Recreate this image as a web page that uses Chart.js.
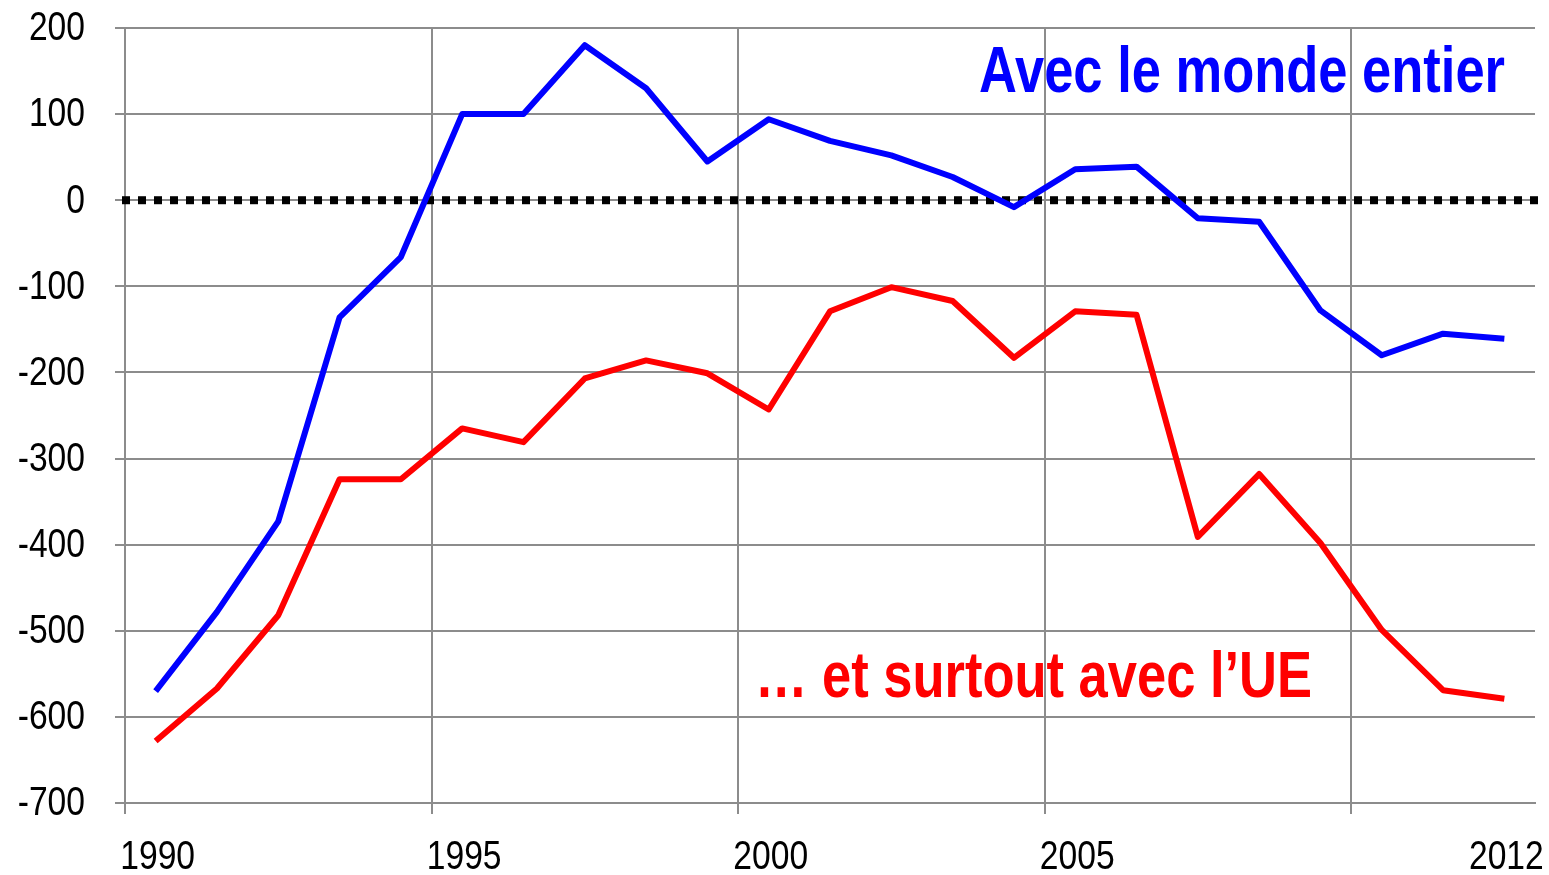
<!DOCTYPE html>
<html>
<head>
<meta charset="utf-8">
<script src="https://cdn.jsdelivr.net/npm/chart.js@4"></script>
<style>
  html, body { margin: 0; padding: 0; background: #fff; }
  #wrap { width: 1549px; height: 875px; }
</style>
</head>
<body>
<div id="wrap"><canvas id="graphique"></canvas></div>
<script>
const annees = ["1990","1991","1992","1993","1994","1995","1996","1997","1998","1999","2000",
  "2001","2002","2003","2004","2005","2006","2007","2008","2009","2010","2011","2012"];

const mondeEntier = [-570, -478, -373, -136, -66, 100, 100, 180, 130, 45, 94,
  69, 52, 27, -8, 36, 39, -21, -25, -128, -180, -155, -161];

const avecUE = [-628, -567, -482, -324, -324, -265, -281, -207, -186, -201, -243,
  -129, -101, -117, -183, -129, -133, -391, -318, -398, -499, -569, -579];

const anneesAffichees = ["1990", "1995", "2000", "2005", "2012"];
const yMin = -700, yMax = 200, yPas = 100;

const police = "'Liberation Sans', Arial, sans-serif";
const etroit = 0.82; // pas de police "narrow" installée : on compresse à la main
const gris = "#8c8c8c";

function texteEtroit(ctx, txt, x, y, align) {
  ctx.save();
  ctx.translate(x, y);
  ctx.scale(etroit, 1);
  ctx.textAlign = align;
  ctx.fillText(txt, 0, 0);
  ctx.restore();
}

// ligne pointillée du zéro, étiquettes des axes et textes
const decor = {
  id: "decor",
  beforeDatasetsDraw(chart) {
    const { ctx, chartArea, scales } = chart;
    const y0 = scales.y.getPixelForValue(0);
    ctx.save();
    ctx.strokeStyle = "#000";
    ctx.lineWidth = 8;
    ctx.setLineDash([8, 8]);
    ctx.beginPath();
    ctx.moveTo(chartArea.left - 3, y0);
    ctx.lineTo(chartArea.right + 3, y0);
    ctx.stroke();
    ctx.restore();
  },
  afterDraw(chart) {
    const { ctx, chartArea, scales } = chart;
    ctx.save();
    ctx.fillStyle = "#000";
    ctx.font = "41px " + police;
    ctx.textBaseline = "middle";
    scales.y.ticks.forEach(t => {
      texteEtroit(ctx, String(t.value), chartArea.left - 40, scales.y.getPixelForValue(t.value) + 1, "right");
    });
    ctx.textBaseline = "top";
    annees.forEach((a, i) => {
      if (anneesAffichees.includes(a)) {
        texteEtroit(ctx, a, scales.x.getPixelForValue(i) + 2, chartArea.bottom + 34, "center");
      }
    });

    ctx.font = "bold 64px " + police;
    ctx.textBaseline = "alphabetic";
    ctx.fillStyle = "#0000ff";
    texteEtroit(ctx, "Avec le monde entier", chartArea.right - 30, 92, "right");
    ctx.fillStyle = "#ff0000";
    texteEtroit(ctx, "\u2026 et surtout avec l\u2019UE", chartArea.right - 223, 697, "right");
    ctx.restore();
  }
};

new Chart(document.getElementById("graphique"), {
  type: "line",
  data: {
    labels: annees,
    datasets: [{
      label: "Avec le monde entier",
      data: mondeEntier,
      borderColor: "#0000ff",
      borderWidth: 6,
      borderJoinStyle: "round",
      pointRadius: 0,
      tension: 0
    }, {
      label: "… et surtout avec l’UE",
      data: avecUE,
      borderColor: "#ff0000",
      borderWidth: 6,
      borderJoinStyle: "round",
      pointRadius: 0,
      tension: 0
    }]
  },
  options: {
    responsive: true,
    maintainAspectRatio: false,
    animation: false,
    layout: { padding: { top: 28, right: 14, left: 0, bottom: 0 } },
    plugins: {
      legend: { display: false },
      tooltip: { enabled: false }
    },
    scales: {
      x: {
        offset: true,
        grid: {
          offset: true,
          color: (c) => (c.index % 5 === 0 ? gris : "rgba(0,0,0,0)"),
          lineWidth: 2,
          tickLength: 11
        },
        border: { color: gris, width: 2 },
        ticks: { display: false, autoSkip: false },
        afterFit(s) { s.height = 72; }
      },
      y: {
        min: yMin,
        max: yMax,
        ticks: { display: false, stepSize: yPas },
        grid: { color: gris, lineWidth: 2, tickLength: 10 },
        border: { color: gris, width: 2 },
        afterFit(s) { s.width = 125; }
      }
    }
  },
  plugins: [decor]
});
</script>
</body>
</html>
